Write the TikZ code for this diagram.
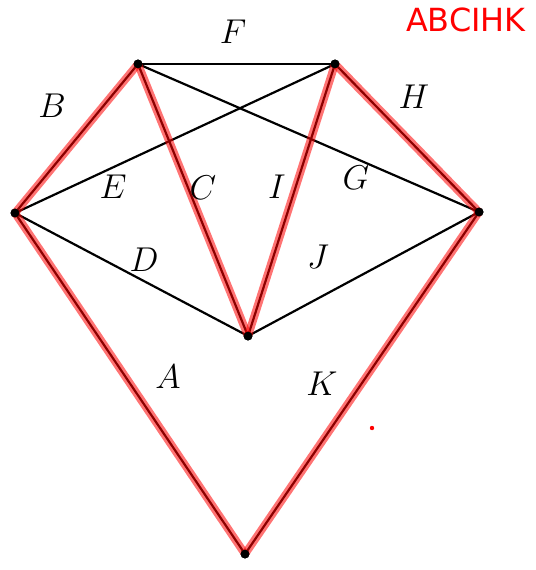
\documentclass[tikz,border=0pt]{standalone}
\usepackage{fontspec}
\newfontfamily\labelfont{DejaVu Sans}
\usetikzlibrary{positioning}

\begin{document}
\begin{tikzpicture}[
x=0.5bp,y=-0.5bp,
vertex/.style={circle,fill=black,inner sep=0pt,minimum size=4.5bp},
edge/.style={line width=1.1bp,draw=black},
picked/.style={line width=4bp,draw=red,opacity=0.55},
lbl/.style={font=\fontsize{16.5}{19}\selectfont}
]
\useasboundingbox (0,0) rectangle (536,570);
% vertices
\node[vertex] (L) at (15,213) {};
\node[vertex] (TL) at (138,64) {};
\node[vertex] (TR) at (335,64) {};
\node[vertex] (R) at (479,212) {};
\node[vertex] (M) at (248,336) {};
\node[vertex] (Bt) at (245,554) {};
% all segments
\draw[edge] (L.center)--(TL.center); \draw[edge] (TL.center)--(TR.center);
\draw[edge] (TR.center)--(R.center); \draw[edge] (L.center)--(TR.center);
\draw[edge] (TL.center)--(R.center); \draw[edge] (TL.center)--(M.center);
\draw[edge] (TR.center)--(M.center); \draw[edge] (L.center)--(M.center);
\draw[edge] (M.center)--(R.center); \draw[edge] (L.center)--(Bt.center);
\draw[edge] (R.center)--(Bt.center);
% highlighted path
\draw[picked] (L.center)--(TL.center); \draw[picked] (TL.center)--(M.center);
\draw[picked] (M.center)--(TR.center); \draw[picked] (TR.center)--(R.center);
\draw[picked] (L.center)--(Bt.center); \draw[picked] (R.center)--(Bt.center);
% dots on top
\foreach \v in {L,TL,TR,R,M,Bt} \fill (\v) circle (2.2bp);
\fill[red] (372,428) circle (1.1bp);
% labels
\node[lbl] (lA) at (168,377) {$A$};
\node[lbl] (lB) at (52,106) {$B$};
\node[lbl] (lC) at (203,188) {$C$};
\node[lbl] (lD) at (144,260) {$D$};
\node[lbl] (lE) at (113,187) {$E$};
\node[lbl] (lF) at (233,32) {$F$};
\node[lbl] (lG) at (356,178) {$G$};
\node[lbl] (lH) at (414,97) {$H$};
\node[lbl] (lI) at (277,187) {$I$};
\node[lbl] (lJ) at (318,257) {$J$};
\node[lbl] (lK) at (322,384) {$K$};
\node[red,font=\labelfont\fontsize{16}{19}\selectfont] (path) at (466,20) {ABCIHK};
\end{tikzpicture}
\end{document}
